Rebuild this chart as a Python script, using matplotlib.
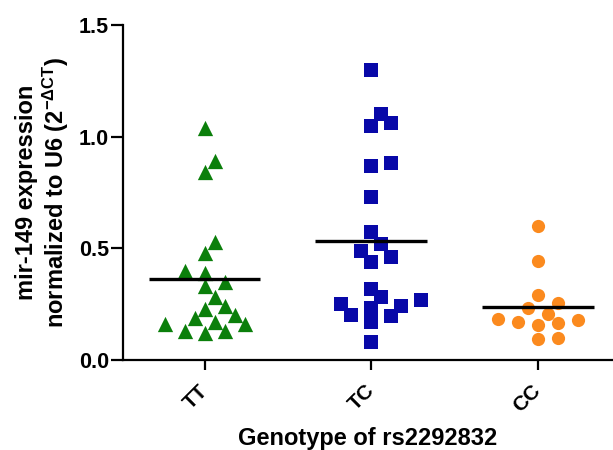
import numpy as np
import matplotlib
matplotlib.use("Agg")
import matplotlib.pyplot as plt

plt.rcParams['font.family'] = ['Liberation Sans', 'DejaVu Sans']
plt.rcParams['font.weight'] = 'bold'
plt.rcParams['mathtext.fontset'] = 'custom'
plt.rcParams['mathtext.rm'] = 'Liberation Sans:bold'
plt.rcParams['mathtext.bf'] = 'Liberation Sans:bold'
plt.rcParams['mathtext.it'] = 'Liberation Sans:bold:italic'

# data (mir-149 expression, 2^-dCT)
genotypes = ['TT', 'TC', 'CC']
tt_values = [1.04, 0.89, 0.84, 0.53, 0.48, 0.39, 0.40, 0.35, 0.33, 0.28,
             0.24, 0.23, 0.19, 0.20, 0.16, 0.17, 0.16, 0.13, 0.12, 0.13]
tc_values = [1.30, 1.06, 1.05, 1.10, 0.87, 0.88, 0.73, 0.575, 0.52, 0.46, 0.49,
             0.44, 0.32, 0.27, 0.28, 0.24, 0.25, 0.235, 0.20, 0.195, 0.17, 0.08]
cc_values = [0.60, 0.445, 0.29, 0.255, 0.235, 0.205, 0.17, 0.155, 0.185,
             0.18, 0.165, 0.095, 0.10]
y_ticks = [0.0, 0.5, 1.0, 1.5]

groups = [tt_values, tc_values, cc_values]
colors = ['#0b7f0b', '#0808a8', '#fb8a1e']
markers = ['^', 's', 'o']
msize = [11, 9.5, 9.5]

fig = plt.figure(figsize=(6.13, 4.5), dpi=100)
ax = fig.add_axes([123 / 613, 90 / 450, 490 / 613, 335 / 450])
ax.set_xlim(-0.49, 2.45)
ax.set_ylim(0, 1.5)


def swarm_offsets(values, center, dist=13.0, step=10.0):
    # simple beeswarm in display pixels, returned as data x offsets
    ypix = ax.transData.transform([(center, v) for v in values])[:, 1]
    x0 = ax.transData.transform([(center, 0)])[0, 0]
    x1 = ax.transData.transform([(center + 1, 0)])[0, 0]
    per_unit = x1 - x0
    placed = []
    offs = np.zeros(len(values))
    for i in np.argsort(values):
        for k in [0, 1, -1, 2, -2, 3, -3, 4, -4, 5, -5, 6, -6]:
            px = k * step
            ok = all((px - qx) ** 2 + (ypix[i] - qy) ** 2 >= dist ** 2
                     for qx, qy in placed)
            if ok:
                break
        placed.append((px, ypix[i]))
        offs[i] = px / per_unit
    return offs


for i, vals in enumerate(groups):
    offs = swarm_offsets(vals, i)
    ax.scatter(i + offs, vals, marker=markers[i], s=msize[i] ** 2,
               color=colors[i], linewidths=0, zorder=3, clip_on=False)
    ax.hlines(np.mean(vals), i - 0.335, i + 0.335, color='black',
              linewidth=2.4, zorder=4)

ax.spines['top'].set_visible(False)
ax.spines['right'].set_visible(False)
ax.spines['left'].set_linewidth(1.6)
ax.spines['bottom'].set_linewidth(1.6)

ax.set_yticks(y_ticks)
ax.set_yticklabels(['%.1f' % t for t in y_ticks], fontsize=15.5, fontweight='bold')
ax.set_xticks(range(len(genotypes)))
ax.set_xticklabels(genotypes, fontsize=15, rotation=45, ha='right',
                   va='center', rotation_mode='anchor')
ax.tick_params(axis='y', length=9, width=1.6, pad=1)
ax.tick_params(axis='x', length=7, width=1.6, pad=13)

ax.set_xlabel('Genotype of rs2292832', fontsize=17, fontweight='bold', labelpad=8)
ax.set_ylabel('mir-149 expression\nnormalized to U6 (2$^{\\mathbf{-\\Delta CT}}$)',
              fontsize=17, fontweight='bold', linespacing=1.1, labelpad=6)

fig.savefig('out.png', dpi=100)
